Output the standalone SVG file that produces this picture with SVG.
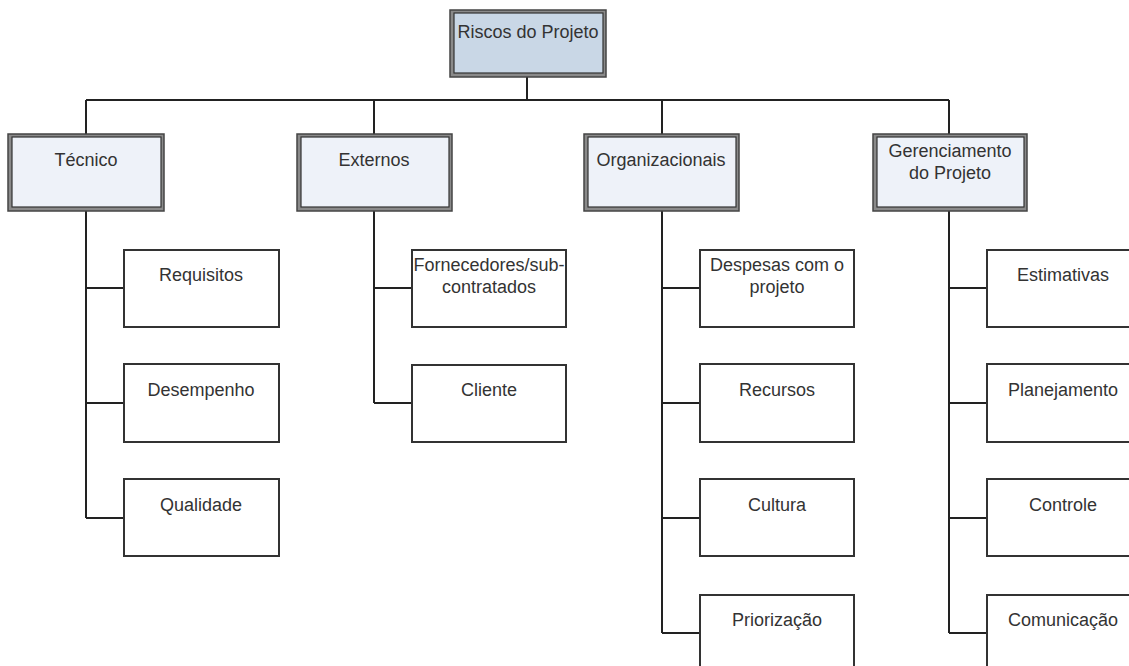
<svg xmlns="http://www.w3.org/2000/svg" width="1129" height="666" viewBox="0 0 1129 666">
<style>
.bg{fill:#ffffff}
.c{fill:none;stroke:#222;stroke-width:2}
.frame{fill:#8a8a8a;stroke:#444;stroke-width:1.5}
.inL1{fill:#eef2f9;stroke:#333;stroke-width:1.2}
.inTop{fill:#c9d7e6;stroke:#333;stroke-width:1.2}
.child{fill:#ffffff;stroke:#333;stroke-width:2}
text{font-family:"Liberation Sans",Arial,sans-serif;font-size:18px;fill:#333;text-anchor:middle}
</style>
<rect class="bg" x="0" y="0" width="1129" height="666"/>
<g id="connectors">
<path class="c" d="M527,77 V100 M86,100 H949 M86,100 V134 M374,100 V134 M662,100 V134 M949,100 V134"/>
<path class="c" d="M86,211 V518 M86,288 H124 M86,403 H124 M86,518 H124"/>
<path class="c" d="M374,211 V403 M374,288 H412 M374,403 H412"/>
<path class="c" d="M662,211 V633 M662,288 H700 M662,403 H700 M662,518 H700 M662,633 H700"/>
<path class="c" d="M949,211 V633 M949,288 H987 M949,403 H987 M949,518 H987 M949,633 H987"/>
</g>
<g id="riscos">
<rect class="frame" x="450" y="10" width="156" height="67"/>
<rect class="inTop" x="454" y="13" width="149" height="60"/>
<text x="528" y="38">Riscos do Projeto</text>
</g>
<g id="tecnico">
<rect class="frame" x="8" y="134" width="156" height="77"/>
<rect class="inL1" x="12" y="137" width="149" height="70"/>
<text x="86" y="166">Técnico</text>
</g>
<g id="externos">
<rect class="frame" x="297" y="134" width="155" height="77"/>
<rect class="inL1" x="301" y="137" width="148" height="70"/>
<text x="374" y="166">Externos</text>
</g>
<g id="organizacionais">
<rect class="frame" x="584" y="134" width="155" height="77"/>
<rect class="inL1" x="588" y="137" width="148" height="70"/>
<text x="661" y="166">Organizacionais</text>
</g>
<g id="gerenciamento">
<rect class="frame" x="873" y="134" width="154" height="77"/>
<rect class="inL1" x="877" y="137" width="147" height="70"/>
<text x="950" y="157">Gerenciamento</text>
<text x="950" y="179">do Projeto</text>
</g>
<g id="requisitos"><rect class="child" x="124" y="250" width="155" height="77"/><text x="201" y="281">Requisitos</text></g>
<g id="desempenho"><rect class="child" x="124" y="364" width="155" height="78"/><text x="201" y="396">Desempenho</text></g>
<g id="qualidade"><rect class="child" x="124" y="479" width="155" height="77"/><text x="201" y="511">Qualidade</text></g>
<g id="fornecedores"><rect class="child" x="412" y="250" width="154" height="77"/><text x="489" y="271">Fornecedores/sub-</text><text x="489" y="293">contratados</text></g>
<g id="cliente"><rect class="child" x="412" y="365" width="154" height="77"/><text x="489" y="396">Cliente</text></g>
<g id="despesas"><rect class="child" x="700" y="250" width="154" height="77"/><text x="777" y="271">Despesas com o</text><text x="777" y="293">projeto</text></g>
<g id="recursos"><rect class="child" x="700" y="364" width="154" height="78"/><text x="777" y="396">Recursos</text></g>
<g id="cultura"><rect class="child" x="700" y="479" width="154" height="77"/><text x="777" y="511">Cultura</text></g>
<g id="priorizacao"><rect class="child" x="700" y="595" width="154" height="77"/><text x="777" y="626">Priorização</text></g>
<g id="estimativas"><rect class="child" x="987" y="250" width="154" height="77"/><text x="1063" y="281">Estimativas</text></g>
<g id="planejamento"><rect class="child" x="987" y="364" width="154" height="78"/><text x="1063" y="396">Planejamento</text></g>
<g id="controle"><rect class="child" x="987" y="479" width="154" height="77"/><text x="1063" y="511">Controle</text></g>
<g id="comunicacao"><rect class="child" x="987" y="595" width="154" height="77"/><text x="1063" y="626">Comunicação</text></g>
</svg>
